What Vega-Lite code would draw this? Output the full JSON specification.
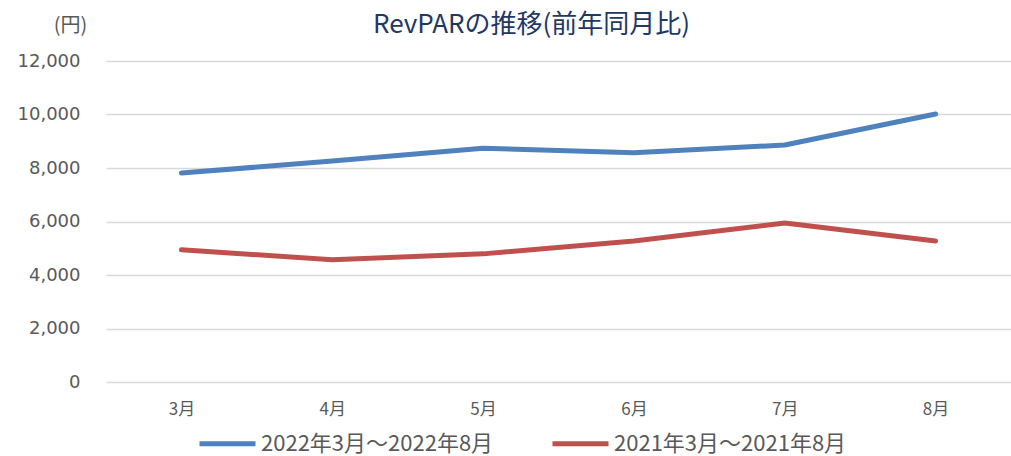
{
  "$schema": "https://vega.github.io/schema/vega-lite/v6.json",
  "width": 905,
  "height": 321,
  "autosize": {"type": "none"},
  "padding": {"left": 106, "top": 61, "right": 0, "bottom": 74},
  "background": "white",
  "config": {
    "view": {"stroke": null},
    "font": "DejaVu Sans"
  },
  "title": {
    "text": "RevPARの推移(前年同月比)",
    "font": "Noto Sans CJK JP",
    "fontSize": 26,
    "fontWeight": "normal",
    "color": "#1F3864",
    "anchor": "middle",
    "frame": "group",
    "dx": -27,
    "offset": 0,
    "dy": 23
  },
  "data": {
    "values": [
      {"month": "3月", "series": "2022年3月～2022年8月", "value": 7810},
      {"month": "4月", "series": "2022年3月～2022年8月", "value": 8260},
      {"month": "5月", "series": "2022年3月～2022年8月", "value": 8740},
      {"month": "6月", "series": "2022年3月～2022年8月", "value": 8570},
      {"month": "7月", "series": "2022年3月～2022年8月", "value": 8860},
      {"month": "8月", "series": "2022年3月～2022年8月", "value": 10020},
      {"month": "3月", "series": "2021年3月～2021年8月", "value": 4940},
      {"month": "4月", "series": "2021年3月～2021年8月", "value": 4570},
      {"month": "5月", "series": "2021年3月～2021年8月", "value": 4790},
      {"month": "6月", "series": "2021年3月～2021年8月", "value": 5270},
      {"month": "7月", "series": "2021年3月～2021年8月", "value": 5940},
      {"month": "8月", "series": "2021年3月～2021年8月", "value": 5270}
    ]
  },
  "mark": {"type": "line", "strokeWidth": 5, "strokeCap": "round", "strokeJoin": "round"},
  "encoding": {
    "x": {
      "field": "month",
      "type": "ordinal",
      "sort": ["3月", "4月", "5月", "6月", "7月", "8月"],
      "scale": {"type": "point", "padding": 0.5},
      "axis": {
        "title": null,
        "labelAngle": 0,
        "labelFont": "Noto Sans CJK JP",
        "labelFontSize": 17,
        "labelColor": "#595959",
        "labelPadding": 19,
        "ticks": false,
        "domain": false,
        "grid": false
      }
    },
    "y": {
      "field": "value",
      "type": "quantitative",
      "scale": {"domain": [0, 12000]},
      "axis": {
        "values": [0, 2000, 4000, 6000, 8000, 10000, 12000],
        "format": ",d",
        "title": "(円)",
        "titleAngle": 0,
        "titleFont": "Noto Sans CJK JP",
        "titleFontSize": 20,
        "titleFontWeight": "normal",
        "titleColor": "#595959",
        "titleX": -36,
        "titleY": -30,
        "titleAlign": "center",
        "titleBaseline": "alphabetic",
        "labelFontSize": 18,
        "labelColor": "#595959",
        "labelPadding": 26,
        "ticks": false,
        "domain": false,
        "grid": true,
        "gridColor": "#D9D9D9",
        "gridWidth": 1.5
      }
    },
    "color": {
      "field": "series",
      "type": "nominal",
      "sort": ["2022年3月～2022年8月", "2021年3月～2021年8月"],
      "scale": {
        "domain": ["2022年3月～2022年8月", "2021年3月～2021年8月"],
        "range": ["#4F81BD", "#C0504D"]
      },
      "legend": {
        "title": null,
        "orient": "none",
        "direction": "horizontal",
        "legendX": 91,
        "legendY": 352,
        "symbolType": "stroke",
        "symbolStrokeWidth": 5,
        "symbolSize": 3136,
        "labelFont": "Noto Sans CJK JP",
        "labelFontSize": 22,
        "labelColor": "#595959",
        "labelOffset": 3,
        "columnPadding": 48,
        "labelLimit": 400
      }
    }
  }
}
